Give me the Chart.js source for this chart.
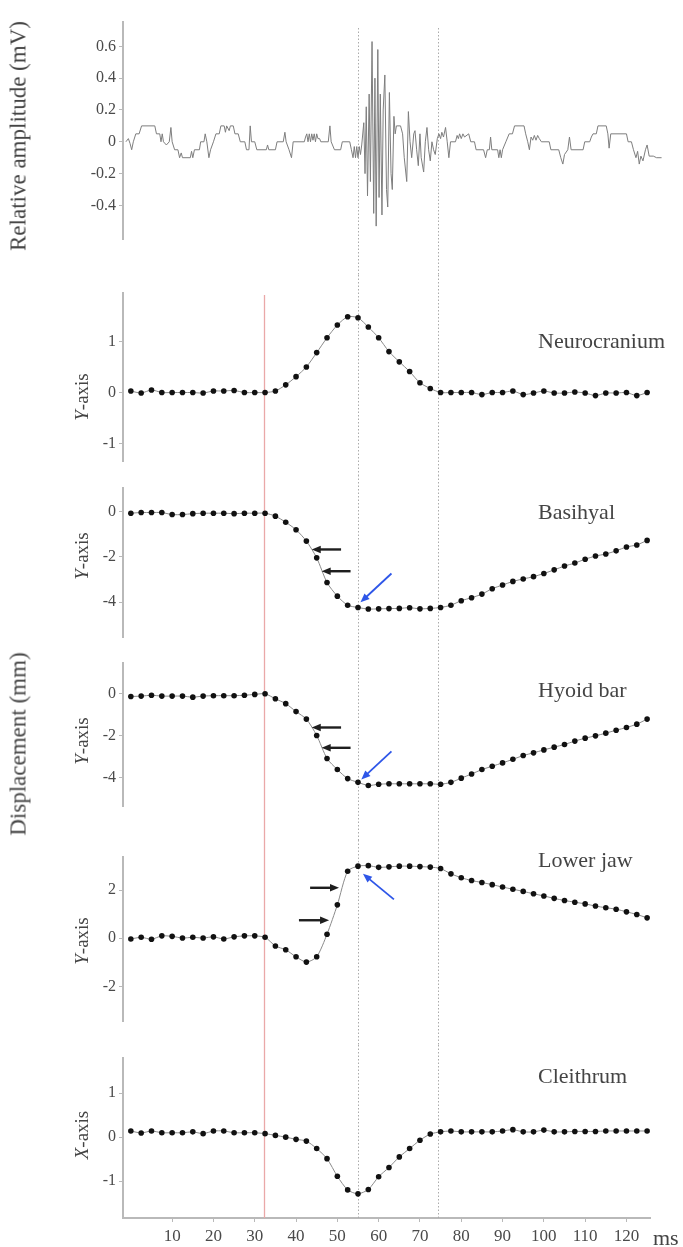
<!DOCTYPE html>
<html>
<head>
<meta charset="utf-8">
<script src="https://cdn.jsdelivr.net/npm/chart.js@4.4.1/dist/chart.umd.min.js"></script>
<style>
  body { margin: 0; background: #fff; }
  #fig { position: relative; width: 683px; height: 1247px; overflow: hidden; background: #fff;
         font-family: 'Liberation Serif', 'Times New Roman', serif; color: #444; }
  #fig canvas { position: absolute; left: 0; }
  .lbl { position: absolute; white-space: nowrap; line-height: 1; z-index: 2; }
  .rot { transform: translate(-50%, -50%) rotate(-90deg); }
  .name { transform: translateY(-50%); font-size: 22px; }
</style>
</head>
<body>
<div id="fig">
  <div class="lbl rot" style="left:18px; top:136px; font-size:23px">Relative amplitude (mV)</div>
  <div class="lbl rot" style="left:18px; top:744px; font-size:23px">Displacement (mm)</div>
  <div class="lbl rot" style="left:81px; top:397px; font-size:19px"><i>Y</i>-axis</div>
  <div class="lbl rot" style="left:81px; top:556px; font-size:19px"><i>Y</i>-axis</div>
  <div class="lbl rot" style="left:81px; top:741px; font-size:19px"><i>Y</i>-axis</div>
  <div class="lbl rot" style="left:81px; top:941px; font-size:19px"><i>Y</i>-axis</div>
  <div class="lbl rot" style="left:81px; top:1135px; font-size:19px"><i>X</i>-axis</div>
  <div class="lbl name" style="left:538px; top:341px">Neurocranium</div>
  <div class="lbl name" style="left:538px; top:512px">Basihyal</div>
  <div class="lbl name" style="left:538px; top:690px">Hyoid bar</div>
  <div class="lbl name" style="left:538px; top:860px">Lower jaw</div>
  <div class="lbl name" style="left:538px; top:1076px">Cleithrum</div>
  <div class="lbl" style="left:653px; top:1227px; font-size:22px">ms</div>
</div>
<script>
// kinematics sampled every 2.5 ms
const TIME_MS = [0, 2.5, 5, 7.5, 10, 12.5, 15, 17.5, 20, 22.5, 25, 27.5, 30, 32.5, 35, 37.5, 40, 42.5, 45, 47.5,
  50, 52.5, 55, 57.5, 60, 62.5, 65, 67.5, 70, 72.5, 75, 77.5, 80, 82.5, 85, 87.5, 90, 92.5, 95, 97.5,
  100, 102.5, 105, 107.5, 110, 112.5, 115, 117.5, 120, 122.5, 125]

const NEUROCRANIUM = [0.03, -0.01, 0.05, 0, 0, 0, 0, -0.01, 0.03, 0.03, 0.04, 0, 0, 0,
  0.03, 0.15, 0.31, 0.5, 0.78, 1.07, 1.32, 1.48, 1.46, 1.28, 1.07, 0.8, 0.6, 0.41, 0.19, 0.08, 0,
  0, 0, 0, -0.04, 0, 0, 0.03, -0.04, -0.01, 0.03, -0.01, -0.01, 0.01, -0.01, -0.06, -0.01, -0.01, 0, -0.06, 0]

const BASIHYAL = [-0.07, -0.04, -0.04, -0.04, -0.13, -0.13, -0.09, -0.07, -0.07, -0.07, -0.09, -0.07, -0.07, -0.07,
  -0.2, -0.47, -0.8, -1.3, -2.04, -3.13, -3.73, -4.13, -4.23, -4.3, -4.29, -4.28, -4.27, -4.24, -4.29, -4.27, -4.23,
  -4.13, -3.93, -3.8, -3.64, -3.4, -3.24, -3.08, -2.97, -2.87, -2.73, -2.57, -2.4, -2.27, -2.1, -1.96, -1.87, -1.73, -1.56, -1.47, -1.27]

const HYOID_BAR = [-0.13, -0.11, -0.07, -0.11, -0.11, -0.11, -0.16, -0.11, -0.09, -0.09, -0.09, -0.07, -0.03, 0,
  -0.24, -0.47, -0.85, -1.21, -1.99, -3.09, -3.62, -4.05, -4.23, -4.38, -4.32, -4.3, -4.3, -4.3, -4.3, -4.3, -4.32,
  -4.23, -4.03, -3.83, -3.62, -3.46, -3.3, -3.13, -2.95, -2.82, -2.68, -2.55, -2.42, -2.26, -2.12, -2.01, -1.88, -1.74, -1.61, -1.45, -1.21]

const LOWER_JAW = [-0.03, 0.04, -0.04, 0.1, 0.08, 0.01, 0.04, 0.01, 0.06, -0.03, 0.06, 0.1, 0.1, 0.04,
  -0.32, -0.48, -0.77, -0.99, -0.77, 0.17, 1.39, 2.79, 3.0, 3.02, 2.95, 2.97, 3.0, 3.0, 2.98, 2.96, 2.9,
  2.68, 2.52, 2.4, 2.32, 2.23, 2.13, 2.04, 1.95, 1.85, 1.76, 1.66, 1.57, 1.5, 1.43, 1.34, 1.27, 1.21, 1.1, 0.99, 0.85]

const CLEITHRUM = [0.14, 0.095, 0.14, 0.1, 0.1, 0.1, 0.12, 0.08, 0.14, 0.14, 0.1, 0.1, 0.1, 0.08,
  0.04, 0, -0.05, -0.09, -0.26, -0.49, -0.89, -1.2, -1.29, -1.19, -0.9, -0.69, -0.45, -0.26, -0.07, 0.07, 0.12,
  0.14, 0.12, 0.12, 0.12, 0.12, 0.14, 0.17, 0.12, 0.12, 0.16, 0.12, 0.12, 0.13, 0.13, 0.13, 0.14, 0.14, 0.14, 0.14, 0.14]

// EMG trace (ms, mV)
const EMG_T = [-1.2, -0.6, -0.2, 0.2, 0.6, 1.2, 2.0, 2.6, 5.8, 6.2, 7.0, 7.3, 7.6, 7.9, 8.6, 9.3, 9.7, 10.0,
  10.6, 11.4, 11.8, 12.2, 12.5, 14.4, 14.7, 15.0, 15.4, 16.6, 16.9, 17.7, 18.0, 18.4, 18.9, 19.3, 20.0, 20.6,
  21.4, 21.8, 22.6, 22.9, 23.2, 23.8, 24.1, 24.8, 25.2, 26.0, 26.5, 27.6, 28.0, 28.6, 28.9, 29.2, 30.0, 30.5,
  32.8, 33.1, 33.4, 35.0, 35.4, 36.9, 37.3, 37.6, 38.3, 38.9, 39.3, 42.0, 42.3, 42.6, 42.9, 43.2, 43.5, 43.8,
  44.1, 44.4, 44.7, 45.0, 45.3, 45.7, 46.0, 47.8, 48.2, 48.5, 49.3, 50.8, 51.2, 53.0, 53.4, 53.8, 54.1, 54.4,
  54.7, 55.0, 55.3, 55.6, 55.9,
  56.4, 56.7, 57.0, 57.3, 57.7, 58.0, 58.4, 58.8, 59.1, 59.4, 59.8, 60.1, 60.4, 60.8, 61.1, 61.5, 61.9, 62.2,
  62.6, 63.0, 63.3, 63.7, 64.0, 64.3, 65.3, 65.8, 66.2, 66.8, 67.2, 67.6, 68.0, 68.5, 68.8, 69.2, 69.6, 70.0,
  70.3, 70.9, 71.3, 71.7, 72.1, 72.5, 72.9, 73.3, 73.7, 74.2, 74.6, 75.0, 75.3,
  75.7, 76.2, 76.6, 77.0, 77.4, 78.6, 79.0, 79.3, 79.6, 80.0, 80.4, 80.8, 81.8, 82.3, 83.2, 83.6, 85.4, 85.9,
  86.3, 86.8, 87.1, 87.4, 88.8, 89.1, 89.4, 89.7, 90.0, 90.8, 91.6, 92.4, 92.9, 95.2, 95.6, 96.1, 96.5, 96.9,
  97.3, 97.7, 98.1, 98.5, 98.9, 99.4, 101.3, 101.7, 103.6, 104.1, 104.6, 105.0, 105.8, 106.2, 106.6, 109.5,
  109.9, 111.1, 111.5, 111.9, 112.7, 113.1, 115.1, 115.5, 115.8, 116.2, 120.0, 120.4, 121.2, 121.7, 122.3,
  122.7, 123.1, 123.5, 124.0, 124.6, 125.0, 125.5, 126.5, 127.3, 128.5]
const EMG_MV = [0, 0.02, -0.01, -0.05, 0, 0.05, 0.05, 0.1, 0.1, 0.05, 0.05, 0, 0.05, 0, -0.02, 0, 0.09, 0,
  -0.05, -0.05, -0.1, -0.07, -0.1, -0.1, -0.06, -0.1, -0.05, -0.05, 0, 0, 0.05, 0, -0.1, -0.05, 0, 0.05,
  0.05, 0.1, 0.1, 0.06, 0.1, 0.07, 0.1, 0.1, 0.05, 0.05, 0, 0, -0.05, -0.05, 0.1, 0, 0, -0.05,
  -0.05, -0.02, -0.05, -0.05, 0, 0, 0.06, 0, -0.05, -0.1, 0, 0, 0.03, 0.05, 0, 0.05, 0, 0.05,
  0.01, 0.05, 0, 0.05, 0.02, 0.02, 0, 0, 0.1, 0, -0.05, -0.05, 0, 0, -0.05, -0.1, -0.03, -0.1,
  -0.03, -0.1, -0.03, -0.08, -0.02,
  0.12, -0.2, 0.22, -0.34, 0.3, -0.25, 0.63, -0.45, 0.4, -0.53, 0.58, -0.35, 0.3, -0.46, 0.2, 0.42, -0.3, -0.41,
  0.31, -0.2, -0.3, 0.16, 0.05, 0.1, 0.1, 0.05, -0.1, -0.25, 0.19, 0, -0.1, 0.05, 0.07, -0.05, -0.15, 0.05,
  -0.1, -0.19, 0, 0.09, -0.05, -0.12, 0, -0.05, -0.08, 0.02, 0.05, 0.02, 0.06,
  0.03, 0.09, 0, -0.1, 0, 0, 0.04, 0.02, 0.05, 0.02, 0.05, 0.03, 0.05, 0, 0, -0.05, -0.05, -0.1,
  -0.05, -0.05, 0.03, -0.05, -0.05, -0.1, -0.05, -0.1, -0.05, 0, 0.05, 0.05, 0.1, 0.1, 0.05, 0, -0.05, 0.03,
  0.01, 0.04, 0.01, 0.04, 0.02, 0, 0, -0.05, -0.05, -0.1, -0.14, -0.08, -0.05, 0.03, -0.05, -0.05,
  0, 0, 0.03, 0.05, 0.05, 0.1, 0.1, 0.05, -0.04, 0.05, 0.05, 0, 0, -0.05, -0.1,
  -0.06, -0.14, -0.09, -0.12, -0.05, -0.02, -0.09, -0.09, -0.1, -0.1]

const EMG_TICKS = [-0.4, -0.2, 0, 0.2, 0.4, 0.6]
const X_TICKS = [10, 20, 30, 40, 50, 60, 70, 80, 90, 100, 110, 120]
const ONSET_MS = 32.3          // red line
const EVENT_MS = [54.9, 74.3]  // dotted lines

// page geometry
const PAGE_W = 683
const AXIS_LEFT = 123
const AXIS_RIGHT = 650
const X_MIN = -1.9
const X_MAX = 125.7
const PX_PER_MS = (AXIS_RIGHT - AXIS_LEFT) / (X_MAX - X_MIN)
const AXIS_GREY = '#b9b9b9'
const TICK_FONT = { family: "'Liberation Serif', 'Times New Roman', serif", size: 16 }

const markerPlugin = {
  id: 'markers',
  beforeDatasetsDraw(chart, args, opts) {
    const { ctx } = chart
    const xs = chart.scales.x
    const bottom = opts.to != null ? opts.to : chart.height
    ctx.save()
    if (opts.redFrom != null) {
      const x = Math.round(xs.getPixelForValue(ONSET_MS)) + 0.5
      ctx.strokeStyle = '#eaa8a8'
      ctx.lineWidth = 1.3
      ctx.beginPath(); ctx.moveTo(x, opts.redFrom); ctx.lineTo(x, bottom); ctx.stroke()
    }
    ctx.strokeStyle = '#ababab'
    ctx.lineWidth = 1
    ctx.setLineDash([1.5, 2])
    EVENT_MS.forEach(t => {
      const x = Math.round(xs.getPixelForValue(t)) + 0.5
      ctx.beginPath(); ctx.moveTo(x, opts.grayFrom || 0); ctx.lineTo(x, bottom); ctx.stroke()
    })
    ctx.restore()
  },
}

function drawArrow(ctx, x1, y1, x2, y2, color, w, head) {
  const a = Math.atan2(y2 - y1, x2 - x1)
  const c = Math.cos(a), s = Math.sin(a)
  ctx.strokeStyle = color
  ctx.fillStyle = color
  ctx.lineWidth = w
  ctx.beginPath()
  ctx.moveTo(x1, y1)
  ctx.lineTo(x2 - c * head * 0.7, y2 - s * head * 0.7)
  ctx.stroke()
  ctx.beginPath()
  ctx.moveTo(x2, y2)
  ctx.lineTo(x2 - head * c + head * 0.42 * s, y2 - head * s - head * 0.42 * c)
  ctx.lineTo(x2 - head * c - head * 0.42 * s, y2 - head * s + head * 0.42 * c)
  ctx.closePath()
  ctx.fill()
}

const arrowPlugin = {
  id: 'arrows',
  afterDatasetsDraw(chart, args, opts) {
    const { ctx, scales: { x, y } } = chart
    ctx.save()
    ;(opts.list || []).forEach(ar => {
      drawArrow(ctx,
        x.getPixelForValue(ar.from[0]), y.getPixelForValue(ar.from[1]),
        x.getPixelForValue(ar.to[0]), y.getPixelForValue(ar.to[1]),
        ar.blue ? '#2e56e8' : '#1e1e1e', ar.blue ? 1.8 : 2.4, 9)
    })
    ctx.restore()
  },
}

const fig = document.getElementById('fig')

function makePanel(p) {
  const cv = document.createElement('canvas')
  cv.width = PAGE_W
  cv.height = p.bottom - p.top
  cv.style.top = p.top + 'px'
  fig.appendChild(cv)
  const xMax = p.xMax || X_MAX
  const rightPad = PAGE_W - AXIS_LEFT - (xMax - X_MIN) * PX_PER_MS
  const hasX = !!p.xAxis
  const ds = p.emg
    ? { data: p.xs.map((t, i) => ({ x: t, y: p.ys[i] })), borderColor: '#7e7e7e', borderWidth: 1,
        pointRadius: 0, tension: 0 }
    : { data: p.xs.map((t, i) => ({ x: t, y: p.ys[i] })), borderColor: '#8a8a8a', borderWidth: 1,
        pointRadius: 2.8, pointBackgroundColor: '#111', pointBorderWidth: 0, tension: 0.25 }
  return new Chart(cv, {
    type: 'line',
    data: { datasets: [ds] },
    options: {
      responsive: false,
      animation: false,
      events: [],
      layout: { padding: { left: 0, right: rightPad, top: p.areaTop - p.top,
                           bottom: hasX ? 0 : p.bottom - p.areaBottom } },
      plugins: {
        legend: { display: false },
        tooltip: { enabled: false },
        markers: { grayFrom: p.grayFrom, redFrom: p.redFrom, to: p.linesTo },
        arrows: { list: p.arrows },
      },
      scales: {
        x: {
          type: 'linear', min: X_MIN, max: xMax, display: hasX,
          afterFit: s => { s.height = p.bottom - p.areaBottom },
          afterBuildTicks: s => { s.ticks = X_TICKS.map(v => ({ value: v })) },
          grid: { drawOnChartArea: false, tickLength: 4, tickColor: AXIS_GREY, color: AXIS_GREY },
          border: { color: AXIS_GREY, width: 2 },
          ticks: { color: '#4a4a4a', font: { ...TICK_FONT, size: 17 }, padding: 4, maxRotation: 0 },
        },
        y: {
          min: p.yMin, max: p.yMax,
          afterFit: s => { s.width = AXIS_LEFT },
          afterBuildTicks: s => { s.ticks = p.ticks.map(v => ({ value: v })) },
          grid: { drawOnChartArea: false, tickLength: 4, tickColor: AXIS_GREY, color: AXIS_GREY },
          border: { color: AXIS_GREY, width: 2 },
          ticks: {
            color: '#4a4a4a', font: TICK_FONT, padding: 3,
            callback: v => (v === 0 ? '0' : (p.emg ? v.toFixed(1) : String(v))),
          },
        },
      },
    },
    plugins: [markerPlugin, arrowPlugin],
  })
}

makePanel({ emg: true, xs: EMG_T, ys: EMG_MV, ticks: EMG_TICKS, yMin: -0.611, yMax: 0.753, xMax: 128.8,
  top: 0, bottom: 275, areaTop: 22, areaBottom: 257, grayFrom: 28 })

makePanel({ xs: TIME_MS, ys: NEUROCRANIUM, ticks: [-1, 0, 1], yMin: -1.338, yMax: 1.945,
  top: 275, bottom: 475, areaTop: 293, areaBottom: 468, grayFrom: 0, redFrom: 20 })

makePanel({ xs: TIME_MS, ys: BASIHYAL, ticks: [-4, -2, 0], yMin: -5.55, yMax: 1.06,
  top: 475, bottom: 650, areaTop: 482, areaBottom: 647, grayFrom: 0, redFrom: 0,
  arrows: [
    { from: [50.9, -1.67], to: [43.8, -1.67] },
    { from: [53.2, -2.63], to: [46.2, -2.63] },
    { from: [63.1, -2.73], to: [55.6, -4.0], blue: true },
  ] })

makePanel({ xs: TIME_MS, ys: HYOID_BAR, ticks: [-4, -2, 0], yMin: -5.36, yMax: 1.49,
  top: 650, bottom: 840, areaTop: 653, areaBottom: 823, grayFrom: 0, redFrom: 0,
  arrows: [
    { from: [50.9, -1.61], to: [43.8, -1.61] },
    { from: [53.2, -2.58], to: [46.2, -2.58] },
    { from: [63.1, -2.75], to: [55.8, -4.09], blue: true },
  ] })

makePanel({ xs: TIME_MS, ys: LOWER_JAW, ticks: [-2, 0, 2], yMin: -3.44, yMax: 3.38,
  top: 840, bottom: 1045, areaTop: 857, areaBottom: 1033, grayFrom: 0, redFrom: 0,
  arrows: [
    { from: [43.4, 2.1], to: [50.4, 2.1] },
    { from: [40.7, 0.75], to: [48.0, 0.75] },
    { from: [63.7, 1.62], to: [56.2, 2.68], blue: true },
  ] })

makePanel({ xs: TIME_MS, ys: CLEITHRUM, ticks: [-1, 0, 1], yMin: -1.84, yMax: 1.81, xAxis: true,
  top: 1045, bottom: 1247, areaTop: 1057, areaBottom: 1218, grayFrom: 0, redFrom: 0, linesTo: 1218 - 1045 })
</script>
</body>
</html>
